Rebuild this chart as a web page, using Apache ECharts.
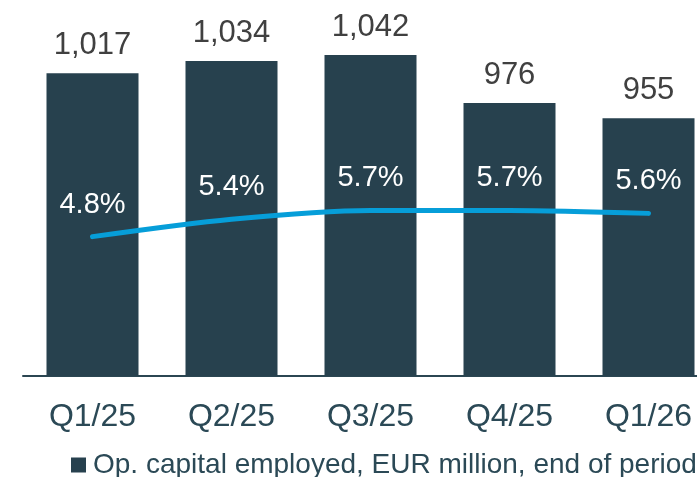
<!DOCTYPE html>
<html>
<head>
<meta charset="utf-8">
<script src="https://cdn.jsdelivr.net/npm/echarts@6/dist/echarts.min.js"></script>
<style>
  html, body { margin: 0; padding: 0; background: #ffffff; }
  #chart { width: 697px; height: 477px; }
</style>
</head>
<body>
<div id="chart"></div>
<script>
// Quarterly operating capital employed (EUR million) and return ratio (%)
const quarters = ['Q1/25', 'Q2/25', 'Q3/25', 'Q4/25', 'Q1/26'];
const capitalEmployed = [1017, 1034, 1042, 976, 955];
const returnPct = [4.8, 5.4, 5.7, 5.7, 5.6];
const legendLabel = 'Op. capital employed, EUR million, end of period';

const FONT = '"Liberation Sans", Arial, sans-serif';
const BAR_COLOR = '#27414e';
const LINE_COLOR = '#069ed9';
const AXIS_TEXT = '#2b4956';

const chart = echarts.init(document.getElementById('chart'), null, { renderer: 'canvas' });

chart.setOption({
  animation: false,
  backgroundColor: '#ffffff',
  textStyle: { fontFamily: FONT },
  grid: { left: 23, top: 13, width: 695, height: 363, containLabel: false, outerBoundsMode: 'none' },
  legend: {
    data: [legendLabel],
    left: 71,
    top: 451,
    padding: 0,
    icon: 'rect',
    itemWidth: 15,
    itemHeight: 15,
    itemGap: 10,
    textStyle: { fontFamily: FONT, fontSize: 28, color: AXIS_TEXT, padding: [0, 0, 0, 2] }
  },
  xAxis: {
    type: 'category',
    data: quarters,
    axisTick: { show: false },
    axisLine: { show: true, lineStyle: { color: '#2b4652', width: 2 } },
    axisLabel: { fontFamily: FONT, fontSize: 32, color: AXIS_TEXT, margin: 25 }
  },
  yAxis: [
    { type: 'value', min: 600, max: 1100, show: false, splitLine: { show: false } },
    { type: 'value', min: 0, max: 12.5, show: false, splitLine: { show: false } }
  ],
  series: [
    {
      name: legendLabel,
      type: 'bar',
      data: capitalEmployed,
      barWidth: 92,
      itemStyle: { color: BAR_COLOR },
      label: {
        show: true,
        position: 'top',
        distance: 12,
        fontFamily: FONT,
        fontSize: 31,
        color: '#404040',
        formatter: p => p.value.toLocaleString('en-US')
      }
    },
    {
      name: 'Return',
      type: 'line',
      yAxisIndex: 1,
      data: returnPct,
      smooth: 0.3,
      symbol: 'circle',
      symbolSize: 1,
      itemStyle: { color: LINE_COLOR },
      lineStyle: { color: LINE_COLOR, width: 5, cap: 'round' },
      label: {
        show: true,
        position: 'top',
        distance: 17,
        fontFamily: FONT,
        fontSize: 29,
        color: '#ffffff',
        formatter: p => p.value.toFixed(1) + '%'
      },
      z: 3
    }
  ]
});
</script>
</body>
</html>
